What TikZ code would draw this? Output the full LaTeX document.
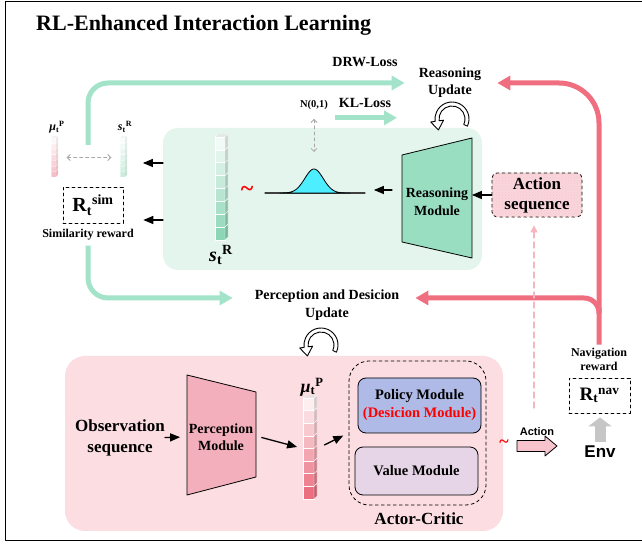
\documentclass[tikz,border=0pt]{standalone}
\usepackage{fontspec}
\setmainfont{Liberation Serif}
\setsansfont{Liberation Sans}
\usetikzlibrary{arrows,arrows.meta,patterns}

\definecolor{mintline}{HTML}{A2E3CA}
\definecolor{greenbg}{HTML}{E3F5EC}
\definecolor{reasonfill}{HTML}{9ADEC2}
\definecolor{pinkbg}{HTML}{FBDDE2}
\definecolor{percfill}{HTML}{F3AFBB}
\definecolor{navline}{HTML}{EF6F80}
\definecolor{policyfill}{HTML}{AFBAE6}
\definecolor{valuefill}{HTML}{E6D5E6}
\definecolor{bellfill}{HTML}{4DEEFF}
\definecolor{actfill}{HTML}{F8D6DC}
\definecolor{actarrow}{HTML}{F7C3CC}
\definecolor{dashpink}{HTML}{F6B6C0}
\definecolor{vecgreen}{HTML}{8CD6B6}
\definecolor{vecpink}{HTML}{EB6F80}

\newcommand{\bsz}[2]{\bfseries\fontsize{#1}{#2}\selectfont}
\newcommand{\featvec}[7]{%
  \foreach \i in {1,...,#5}{%
    \pgfmathsetmacro{\tint}{int(100*\i/#5)}%
    \fill[#7!\tint!white, draw=white, line width=0.5pt] (#1,{#2-\i*#4}) rectangle ++(#3,#4);
    \fill[#7!\tint!white!85!black, draw=white, line width=0.3pt] (#1+#3,{#2-\i*#4}) -- ++(#6,#6) -- ++(0,#4) -- ++(-#6,-#6) -- cycle;
  }%
  \fill[#7!8!white!92!black, draw=white, line width=0.3pt] (#1,#2) -- ++(#6,#6) -- ++(#3,0) -- ++(-#6,-#6) -- cycle;
}

\begin{document}
\begin{tikzpicture}[x=1pt,y=1pt,line cap=round,line join=round,>=triangle 45,
  lossarrow/.style={mintline,line width=5pt,line cap=butt,rounded corners=20pt,-{Triangle[length=13pt,width=14pt]}},
  navarrow/.style={navline,line width=5pt,line cap=butt,rounded corners=40pt,-{Triangle[length=13pt,width=14pt]}},
  envarrow/.style={gray!45,line width=11pt,line cap=butt,-{Triangle[length=9pt,width=23pt]}},
  flow/.style={->,line width=1.3pt},
  gdash/.style={gray!70,dashed,line width=0.8pt,{Straight Barb[length=3pt,width=6pt]}-{Straight Barb[length=3pt,width=6pt]}},
  dashbox/.style={draw,dashed,line width=0.8pt,inner sep=0pt},
  modbox/.style={draw,line width=0.8pt,rounded corners=8pt,minimum width=123pt,align=center,font=\bsz{14.5}{18}},
  lbl/.style={inner sep=0pt,align=center},
  cycarrow/.pic={
    \draw[fill=white,line width=0.9pt] (-25:13) -- (-25:17) arc[start angle=-25,end angle=188,radius=17]
      -- (188:21.5) -- (-13.6,-11) -- (188:8.5) -- (188:13) arc[start angle=188,end angle=-25,radius=13] -- cycle;
  }]
\useasboundingbox (0,0) rectangle (642,545);
\draw[line width=1pt] (642,543.5) -- (5,543.5) -- (5,4) -- (642,4);
\node[lbl,anchor=west,font=\bsz{22}{26}] (title) at (36,520) {RL-Enhanced Interaction Learning};

\fill[greenbg,rounded corners=15pt] (163,275) rectangle (482,417);
\fill[pinkbg,rounded corners=20pt] (65,14) rectangle (503,189);

\draw[fill=reasonfill,line width=0.8pt] (402,303) -- (402,390) -- (472,407) -- (472,287) -- cycle;
\node[lbl,font=\bsz{14}{18}] (rm) at (437,343) {Reasoning\\Module};
\coordinate (rmin) at (472,350);
\coordinate (rmout) at (402,355);
\coordinate (bellend) at (370,355);
\coordinate (bellpk) at (314,376);

\node[dashbox,rounded corners=5pt,fill=actfill,postaction={pattern=crosshatch dots,pattern color=navline!40},
  minimum width=90pt,minimum height=44pt,align=center,font=\bsz{17}{20}] (as) at (537,350) {Action\\sequence};

\draw[darkgray,line width=1.2pt] (265,352) -- (365,352);
\draw[fill=bellfill,line width=0.8pt] plot[domain=280:350,samples=60,smooth] (\x,{352+24*exp(-((\x-314)/13)^2)}) -- cycle;
\node[lbl,text=red,font=\bsz{24}{24}] (tl1) at (247,354) {\textasciitilde};
\node[lbl,font=\bsz{10.5}{12}] (n01) at (314,440) {N(0,1)};
\node[lbl,font=\bsz{14}{17}] (kl) at (365,442) {KL-Loss};
\node[lbl,font=\bsz{14}{17}] (drw) at (365,483) {DRW-Loss};
\node[lbl,font=\bsz{14}{17}] (ru) at (450,462) {Reasoning\\Update};
\pic at (452,426) {cycarrow};

\featvec{215}{408}{10}{12.875}{8}{3}{vecgreen}
\node[lbl,inner sep=0pt,minimum width=13pt,minimum height=103pt] (sRvec) at (221.5,356.5) {};
\node[lbl,font=\bsz{20}{24}] (sRlbl) at (221,290) {\textit{s}\textsubscript{t}\textsuperscript{R}};

\begin{scope}[opacity=0.45]
\featvec{51}{407}{5}{5.57}{7}{2}{vecpink}
\featvec{120}{407}{5}{5.57}{7}{2}{vecgreen}
\end{scope}
\node[lbl,minimum width=8pt,minimum height=39pt] (muvs) at (54.5,387.5) {};
\node[lbl,minimum width=8pt,minimum height=39pt] (svs) at (123.5,387.5) {};
\node[lbl,font=\bsz{12}{14}] (mulbl) at (57,418) {\textit{μ}\textsubscript{t}\textsuperscript{P}};
\node[lbl,font=\bsz{12}{14}] (slbl) at (125,418) {\textit{s}\textsubscript{t}\textsuperscript{R}};
\node[dashbox,minimum width=60pt,minimum height=36pt,font=\bsz{20}{24}] (rsim) at (93,340) {R\textsubscript{t}\textsuperscript{sim}};
\node[lbl,font=\bsz{12}{14}] (simtxt) at (88,310) {Similarity reward};
\coordinate (simtop) at (88,400);
\coordinate (gbw1) at (163,382);
\coordinate (simin1) at (143,382);
\coordinate (gbw2) at (163,325);

\node[lbl,font=\bsz{14}{18}] (pdu) at (327,240) {Perception and Desicion\\Update};
\pic at (321,200) {cycarrow};

\draw[fill=percfill,line width=0.8pt] (187,50) -- (187,170) -- (256,153) -- (256,68) -- cycle;
\node[lbl,font=\bsz{14}{17}] (pm) at (221,107.5) {Perception\\Module};
\coordinate (pmL) at (187,108);
\coordinate (pmR) at (256,109);
\node[lbl,font=\bsz{17}{21}] (obs) at (120,107.5) {Observation\\sequence};

\featvec{303}{147}{11}{12.625}{8}{3}{vecpink}
\node[lbl,minimum width=14pt,minimum height=101pt] (muvec) at (310,96.5) {};
\node[lbl,font=\bsz{18}{22}] (mulbl2) at (312,158) {\textit{μ}\textsubscript{t}\textsuperscript{P}};

\node[dashbox,rounded corners=20pt,minimum width=137pt,minimum height=144pt] (ac) at (417.5,112) {};
\node[modbox,fill=policyfill,minimum height=55pt] (pol) at (419.5,139.5) {Policy Module\\\textcolor{red}{(Desicion Module)}};
\node[modbox,fill=valuefill,minimum height=48pt] (val) at (416.5,74) {Value Module};
\node[lbl,font=\bsz{17}{20}] (aclbl) at (419,26) {Actor-Critic};

\node[lbl,text=red,font=\bsz{18}{18}] (tl2) at (504,101) {\textasciitilde};
\node[lbl,font=\sffamily\bsz{11}{13}] (actlbl) at (537,113) {Action};
\draw[fill=actarrow,line width=0.8pt] (517,93.5) -- (545,93.5) -- (545,89) -- (557,99) -- (545,109) -- (545,104.5) -- (517,104.5) -- cycle;
\coordinate (actq) at (534,137);

\node[lbl,font=\bsz{12}{14}] (navtxt) at (599,186) {Navigation\\reward};
\node[dashbox,minimum width=61pt,minimum height=35pt,font=\bsz{19}{22}] (rnav) at (599.5,149.5) {R\textsubscript{t}\textsuperscript{nav}};
\node[lbl,font=\sffamily\bsz{17}{20}] (env) at (600,93) {Env};

\draw[lossarrow] (simtop) |- ([xshift=-14pt]ru.west);
\draw[lossarrow,shorten <=5pt] (simtxt.south) |- ([xshift=-22pt,yshift=7pt]pdu.west);
\draw[lossarrow,rounded corners=0pt] ([shift={(-30pt,-10pt)}]kl.south) -- ([shift={(32pt,-10pt)}]kl.south);
\draw[navarrow,shorten <=3pt] (navtxt.north) |- ([xshift=16pt]ru.east);
\draw[navarrow,rounded corners=15pt] ([yshift=40pt]navtxt.north) |- ([xshift=16pt,yshift=7pt]pdu.east);
\draw[envarrow,shorten <=4pt,shorten >=4pt] (env.north) -- (env.north |- rnav.south);
\draw[gdash,shorten <=9pt,shorten >=17pt] (n01.south) -- (bellpk);
\draw[gdash,shorten <=8pt,shorten >=8pt] (muvs.east) -- (svs.west);
\draw[flow] (as.west) -- (rmin);
\draw[flow,shorten <=10pt,shorten >=4pt] (rmout) -- (bellend);
\draw[flow] (gbw1) -- (simin1);
\draw[flow,shorten >=20pt] (gbw2) -- (gbw2 -| rsim.east);
\draw[flow,shorten >=7pt] (obs.east) -- (pmL);
\draw[flow,shorten <=6pt,shorten >=6pt] (pmR) -- (muvec.west);
\draw[flow,shorten <=8pt,shorten >=6pt] (muvec.east) -- (ac.west);
\draw[dashpink,dashed,dash pattern=on 6pt off 4pt,line width=1.3pt,-{Triangle[length=7pt,width=7pt]},shorten >=8pt] (actq) -- (actq |- as.south);
\end{tikzpicture}
\end{document}
